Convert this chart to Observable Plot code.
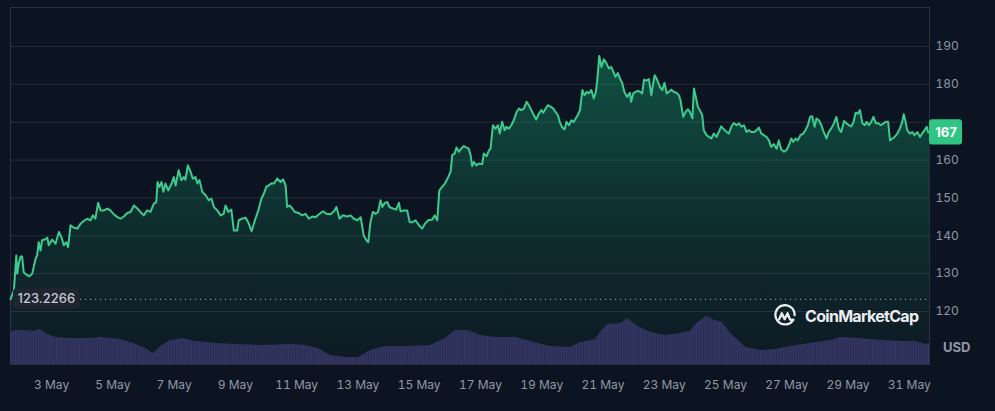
<!DOCTYPE html>
<html><head><meta charset="utf-8">
<script src="https://cdn.jsdelivr.net/npm/d3@7"></script>
<script src="https://cdn.jsdelivr.net/npm/@observablehq/plot@0.6"></script>
<style>
html,body{margin:0;padding:0;background:#0d1421;}
#wrap{position:relative;width:995px;height:411px;overflow:hidden;background:#0d1421;font-family:Inter,sans-serif;}
#wrap svg.layer{position:absolute;left:0;top:0;}
#usd{position:absolute;left:943px;top:339px;font:700 13px Inter,sans-serif;color:#9097a3;line-height:16px;}
#logo{position:absolute;left:773px;top:304px;display:flex;align-items:center;gap:8px;color:#eceef2;font:700 16px Inter,sans-serif;line-height:24px;letter-spacing:-0.7px;}
</style></head><body><div id="wrap"></div>
<script>
// ---- data ----
const days = [1.66,1.77,1.85,1.88,1.93,1.99,2.04,2.09,2.17,2.28,2.37,2.48,2.53,2.58,2.64,2.69,2.78,2.86,2.91,3.02,3.13,3.24,3.33,3.40,3.48,3.54,3.62,3.73,3.84,3.95,4.05,4.16,4.27,4.35,4.43,4.52,4.60,4.71,4.82,4.92,5.03,5.14,5.25,5.36,5.47,5.58,5.69,5.80,5.90,6.01,6.12,6.23,6.34,6.42,6.46,6.52,6.59,6.65,6.72,6.81,6.92,6.99,7.05,7.15,7.24,7.32,7.37,7.45,7.54,7.61,7.70,7.76,7.83,7.92,8.03,8.13,8.22,8.30,8.41,8.52,8.62,8.68,8.77,8.87,8.95,9.06,
9.11,9.22,9.33,9.42,9.53,9.64,9.75,9.85,9.93,10.01,10.09,10.18,10.26,10.37,10.48,10.56,10.64,10.69,10.77,10.86,10.94,11.07,11.18,11.29,11.40,11.51,11.62,11.73,11.86,11.97,12.11,12.22,12.30,12.40,12.51,12.65,12.76,12.87,12.98,13.09,13.19,13.28,13.34,13.41,13.49,13.58,13.66,13.74,13.80,13.88,13.96,14.03,14.14,14.25,14.34,14.39,14.50,14.61,14.69,14.79,14.88,14.99,15.10,15.19,15.30,15.43,15.51,15.59,
15.66,15.75,15.84,15.95,16.03,16.08,16.16,16.22,16.30,16.37,16.46,16.55,16.62,16.68,16.73,16.79,16.87,16.95,17.06,17.11,17.20,17.28,17.33,17.41,17.49,17.57,17.63,17.71,17.79,17.85,17.93,18.01,18.09,18.18,18.26,18.33,18.42,18.51,18.58,18.66,18.74,18.82,18.91,18.99,19.05,19.13,19.20,19.29,19.38,19.45,19.53,19.59,19.67,19.75,19.81,19.89,19.97,20.05,20.11,20.18,20.25,20.33,20.40,20.47,20.54,20.62,20.70,20.77,20.82,20.88,20.95,21.03,21.12,21.19,21.27,21.34,21.41,21.49,21.55,21.63,21.70,21.79,21.88,21.92,21.99,22.06,22.14,22.21,22.28,22.34,22.42,22.50,22.58,22.62,22.69,22.77,22.86,22.94,23.01,23.08,23.15,23.23,23.32,23.40,23.48,
23.53,23.62,23.70,23.77,23.84,23.92,23.97,24.02,24.10,24.16,24.24,24.29,24.38,24.46,24.54,24.62,24.71,24.78,24.86,24.95,25.04,25.11,25.19,25.27,25.36,25.44,25.52,25.60,25.69,25.76,25.84,25.93,26.02,26.09,26.17,26.25,26.34,26.42,26.49,26.58,26.67,26.74,26.82,26.91,26.99,27.07,27.15,27.21,27.29,27.36,27.45,27.54,27.61,27.69,27.76,27.83,27.91,27.97,28.05,28.13,28.21,28.30,28.37,28.45,28.54,28.62,28.70,28.78,28.87,28.95,29.03,29.11,29.18,29.25,29.33,29.39,29.47,29.55,29.61,29.68,29.76,29.83,29.91,29.98,30.07,30.16,30.23,30.31,30.37,30.45,30.52,30.61,30.69,30.77,30.82,30.88,30.93,31.02,31.10,31.17,31.26,31.35,31.42,31.50,31.57,31.61,31.66];

const prices = [123.2266,125.6,134.8,130,132.7,134.5,134.5,130.4,129.8,129.3,130,134,134.8,138.3,136.1,138.8,139,139.5,137.5,139,137.9,141,139.5,137.5,138.3,137,142.8,142.1,141.9,143.2,143.9,144.5,144.1,145.4,144.5,148.7,146.7,146.7,147.2,146.7,145.7,145,144.5,145.1,146,146.3,148,147.2,146.3,145.4,146.7,146.3,148.5,148.9,154.2,152.9,154.2,151.6,153.8,152,153.8,155.5,153.3,157.3,154.7,155.5,154.8,158.6,156.9,155.1,155.5,153.8,154.7,151.6,150.7,149.4,149.8,147.6,146.7,145.4,145.8,148,146.3,146.9,141.4,141.4,
144.1,144.5,144.8,143.6,141.2,144.1,146.7,149.8,151.1,152.9,153.3,153.9,153.8,155.1,154.2,154.9,153.3,147.6,148,147.2,146.3,146,145.4,145.8,144.5,145.1,144.9,145.7,146.5,145.8,145.7,146.5,147.6,144.5,145.4,145.1,145.4,144.5,144.1,144.9,140.1,138.8,138.3,143.6,146.3,145.8,146.3,149.4,147.6,148.7,148.9,147.6,147.2,146.9,148.7,146.5,146.7,146.7,143.6,143.6,144.1,142.8,141.9,143.2,144.1,144.3,145.4,144.1,
152,152.9,153.8,155.5,157,161.3,161.7,163.3,162.2,163,163.7,163.3,163,161.3,158.4,159.5,158.6,159.1,158.9,161.7,161,162.6,163,169.2,168.3,169.2,167,170.1,167.9,168.8,168.3,169.2,170.5,172.7,173.6,173.2,173.6,175.4,174.5,173.2,171.9,170.7,172.3,173.2,172.5,173.6,174.5,174.1,173.6,172.7,171.9,170.1,168.6,168.1,170.1,169.2,170.5,170.1,171,171.9,173.2,178.5,177.1,178,177.6,178.5,176.3,178,181.6,187.5,184.6,186.6,185.5,184.2,184.6,183.3,182,183,181.6,180.3,178,176.7,177.8,175.4,177.6,178,178.3,178,177.6,181.2,181,181.4,177.1,179.3,182.4,181.2,179.3,178.5,180.4,177.6,178,178.6,178,177.8,177.1,
175.8,171.4,172.7,173.4,172.7,171,178.9,177.1,174,173.2,171.9,167.9,166.6,166.1,165.7,167,166.1,167.4,168.9,168.1,167.4,167,168.8,169.8,169.2,169.7,168.8,169.2,167.4,167.9,167.4,167.4,167.9,168.6,167,166.6,166.1,165.2,163.5,164.2,163,165.2,162.8,162.2,162.6,163.9,165.7,164.8,165.7,165.2,166.6,167,167.9,169.2,171.4,171.6,168.8,171,170.5,169.2,167.4,165.7,167.4,168.3,169.7,171.4,168.3,167.4,170.3,169.7,169.2,168.9,170.1,172.5,172.3,173.2,169.7,169.2,170.1,169.2,170.1,171.4,169.7,169.8,169.2,169.7,170.1,170.1,165.2,165.7,166.1,167,168.3,170.1,172.1,170.1,167.9,167,167.4,166.6,167.4,166.1,167,167.9,168.8,167.4,167.2];

// 24h volume (billion USD, estimated)
const volDays = [1.66,1.82,2.15,2.41,2.64,2.80,3.13,3.62,4.27,4.60,5.25,5.68,6.07,6.33,6.56,6.88,7.28,7.70,8.35,9.01,9.82,10.80,11.29,11.72,12.11,12.60,13.02,13.41,13.90,14.56,15.37,15.86,16.19,16.61,17.01,17.49,18.15,18.64,19.29,19.94,20.27,20.76,20.92,21.15,21.58,21.81,22.13,22.56,23.04,23.53,23.86,24.02,24.38,24.67,24.90,25.17,25.66,26.15,26.64,27.13,27.78,28.43,28.77,29.41,30.07,30.72,31.21,31.53,31.66];
const volumes = [3.2,3.4,3.4,3.3,3.5,3.1,2.7,2.6,2.6,2.7,2.5,2.1,1.6,1.1,1.8,2.4,2.6,2.3,2.1,2.0,1.9,2.0,1.9,1.6,0.9,0.7,0.7,1.4,1.8,1.8,1.9,2.6,3.4,3.4,2.9,2.7,2.7,2.3,1.8,1.7,2.2,2.5,3.2,4.0,4.1,4.6,3.8,3.2,2.9,3.1,3.3,4.0,4.8,4.4,4.2,3.1,1.7,1.4,1.5,1.8,2.1,2.4,2.7,2.6,2.4,2.3,2.3,2.0,2.1];

const tickDays = [3,5,7,9,11,13,15,17,19,21,23,25,27,29,31];
const priceTicks = [120,130,140,150,160,170,180,190];
const openPrice = 123.2266;
const startDay = 1.66, endDay = 31.66;

// ---- build ----
const toDate = d => new Date(Date.UTC(2024, 4, 1) + (d - 1) * 864e5);
const n = Math.min(days.length, prices.length);
const data = d3.range(n).map(i => ({date: toDate(days[i]), price: prices[i]}));
const vol = volDays.map((d, i) => ({date: toDate(d), vol: volumes[i]}));
const xDomain = [toDate(startDay), toDate(endDay)];
const yDomain = [106, 200.3];
const last = data[data.length - 1];
const lastLabel = String(Math.round(last.price));
// the current-price badge hides the tick label it sits on
const axisTicks = priceTicks.filter(t => Math.abs(t - last.price) > 4);

const W = 995, H = 411, ML = 10, MR = 66, MB = 47;
const green = "#16c784";

const main = Plot.plot({
  width: W, height: H, marginLeft: ML, marginRight: MR, marginTop: 7, marginBottom: MB,
  style: {background: "transparent", color: "#9097a3", fontFamily: "Inter, sans-serif", fontSize: "12px"},
  x: {type: "utc", domain: xDomain, ticks: tickDays.map(toDate), tickFormat: d => `${d.getUTCDate()} May`, tickSize: 0, tickPadding: 16, label: null},
  y: {domain: yDomain, axis: "right", ticks: axisTicks, tickSize: 0, tickPadding: 6, label: null},
  marks: [
    Plot.ruleY(priceTicks, {stroke: "#262b37", strokeWidth: 1}),
    Plot.frame({stroke: "#2b303c"}),
    Plot.areaY(data, {x: "date", y1: yDomain[0], y2: "price", fill: "url(#cmcGrad)"}),
    Plot.ruleY([openPrice], {stroke: "#b9bec8", strokeDasharray: "1.2,3.8", strokeOpacity: 0.85}),
    Plot.lineY(data, {x: "date", y: "price", stroke: "#3dca8c", strokeWidth: 2}),
    Plot.text([{date: xDomain[0], v: openPrice}], {x: "date", y: "v", text: d => d.v.toFixed(4), dx: 7, textAnchor: "start", fill: "#c4c8d0", fontSize: 13, fontWeight: 500}),
    Plot.text([last], {x: "date", y: "price", text: () => lastLabel, dx: 16.5, fill: "#ffffff", fontSize: 13, fontWeight: 700})
  ]
});
main.classList.add("layer");

const volPlot = Plot.plot({
  width: W, height: H, marginLeft: ML, marginRight: MR, marginTop: 289, marginBottom: MB,
  style: {background: "transparent"},
  x: {type: "utc", domain: xDomain, axis: null},
  y: {domain: [0, 7.5], axis: null},
  marks: [
    Plot.areaY(vol, {x: "date", y: "vol", fill: "url(#volPat)"})
  ]
});
volPlot.classList.add("layer");

const wrap = document.getElementById("wrap");
wrap.appendChild(main);
wrap.appendChild(volPlot);

const NS = "http://www.w3.org/2000/svg";
function el(tag, attrs, parent) {
  const e = document.createElementNS(NS, tag);
  for (const k in attrs) e.setAttribute(k, attrs[k]);
  if (parent) parent.appendChild(e);
  return e;
}
// gradient for price area
const defs = el("defs", {});
main.insertBefore(defs, main.firstChild);
const g = el("linearGradient", {id: "cmcGrad", x1: 0, y1: 50, x2: 0, y2: 364, gradientUnits: "userSpaceOnUse"}, defs);
el("stop", {offset: "0", "stop-color": green, "stop-opacity": 0.34}, g);
el("stop", {offset: "0.55", "stop-color": green, "stop-opacity": 0.14}, g);
el("stop", {offset: "1", "stop-color": green, "stop-opacity": 0.03}, g);
// stripe pattern for volume bars
const vdefs = el("defs", {});
volPlot.insertBefore(vdefs, volPlot.firstChild);
const pat = el("pattern", {id: "volPat", width: 2.55, height: 10, patternUnits: "userSpaceOnUse"}, vdefs);
el("rect", {x: 0, y: 0, width: 2.55, height: 10, fill: "#2c2f55"}, pat);
el("rect", {x: 0, y: 0, width: 0.8, height: 10, fill: "#353968"}, pat);

// boxes behind the two value labels (positions measured from the rendered text)
const svgBox = main.getBoundingClientRect();
const boxLayer = el("g", {});
for (const t of main.querySelectorAll("text")) {
  const s = t.textContent;
  const r = t.getBoundingClientRect();
  const bx = r.left - svgBox.left, by = r.top - svgBox.top, cy = by + r.height / 2;
  if (s === openPrice.toFixed(4)) {
    el("rect", {x: bx - 4.5, y: cy - 10.3, width: r.width + 9, height: 20.6, rx: 4, fill: "#1f2431"}, boxLayer);
  } else if (s === lastLabel && t.closest("g[aria-label='text']")) {
    el("rect", {x: W - MR, y: cy - 12.6, width: 33, height: 25.2, rx: 3, fill: "#2fc584"}, boxLayer);
  }
}
// put boxes right before the text marks so text stays on top
const firstText = main.querySelector("g[aria-label='text']");
main.insertBefore(boxLayer, firstText);

// USD label and watermark
const usd = document.createElement("div");
usd.id = "usd"; usd.textContent = "USD";
wrap.appendChild(usd);
const logo = document.createElement("div");
logo.id = "logo";
logo.innerHTML = '<svg width="24" height="24" viewBox="0 0 24 24" fill="none" stroke="#eceef2" stroke-width="2.3" stroke-linecap="round" stroke-linejoin="round"><path d="M20.2 15.8 A9.6 9.6 0 1 1 21.6 11.2"/><path d="M6.2 15.2 L8.8 9.2 L11.6 15.2 L14.6 9.2 L16.6 14.6 Q17.6 16.8 20.2 15.8"/></svg><span>CoinMarketCap</span>';
wrap.appendChild(logo);
</script>
</body></html>
